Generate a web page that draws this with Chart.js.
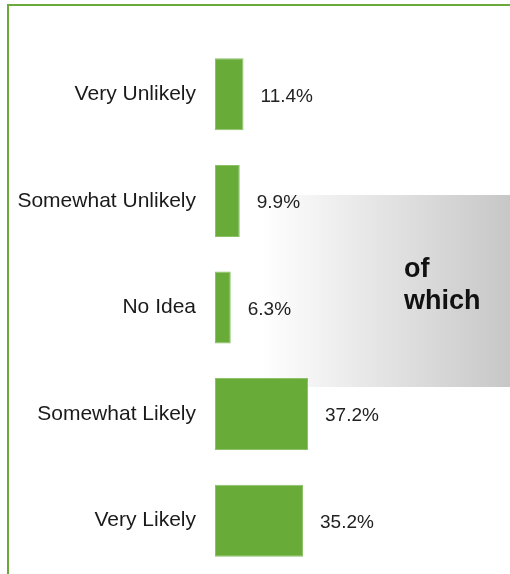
<!DOCTYPE html>
<html>
<head>
<meta charset="utf-8">
<script src="https://cdn.jsdelivr.net/npm/chart.js@4.4.1/dist/chart.umd.min.js"></script>
<style>
  html, body { margin: 0; padding: 0; background: #ffffff; }
  #wrap { width: 510px; height: 574px; position: relative; }
</style>
</head>
<body>
<div id="wrap"><canvas id="chart" width="510" height="574"></canvas></div>
<script>
// Survey answers and their shares (%)
const categories = ["Very Unlikely", "Somewhat Unlikely", "No Idea", "Somewhat Likely", "Very Likely"];
const shares = [11.4, 9.9, 6.3, 37.2, 35.2];
const valueLabels = ["11.4%", "9.9%", "6.3%", "37.2%", "35.2%"];
const calloutLines = ["of", "which"];

const GREEN = "#68ab38";

// Shaded callout panel behind the middle answers, with its caption
const calloutPanel = {
  id: "calloutPanel",
  beforeDatasetsDraw(chart) {
    const ctx = chart.ctx;
    const x0 = 262, x1 = 510, y0 = 195, y1 = 387;
    const g = ctx.createLinearGradient(x0, 0, x1, 0);
    g.addColorStop(0, "#ffffff");
    g.addColorStop(1, "#c7c7c7");
    ctx.save();
    ctx.fillStyle = g;
    ctx.fillRect(x0, y0, x1 - x0, y1 - y0);
    ctx.restore();
  },
  afterDatasetsDraw(chart) {
    const ctx = chart.ctx;
    ctx.save();
    ctx.fillStyle = "#111111";
    ctx.font = "bold 27px 'Liberation Sans', Arial, sans-serif";
    ctx.textAlign = "left";
    ctx.textBaseline = "alphabetic";
    ctx.fillText(calloutLines[0], 404, 277);
    ctx.fillText(calloutLines[1], 404, 309);
    ctx.restore();
  }
};

// Percentage labels just past the end of each bar
const barValues = {
  id: "barValues",
  afterDatasetsDraw(chart) {
    const ctx = chart.ctx;
    const meta = chart.getDatasetMeta(0);
    ctx.save();
    ctx.fillStyle = "#222222";
    ctx.font = "19px 'Liberation Sans', Arial, sans-serif";
    ctx.textAlign = "left";
    ctx.textBaseline = "middle";
    meta.data.forEach((bar, i) => {
      ctx.fillText(valueLabels[i], bar.x + 17, bar.y + 2);
    });
    ctx.restore();
  }
};

// Green frame along the top and left edges
const frame = {
  id: "frame",
  afterDraw(chart) {
    const ctx = chart.ctx;
    ctx.save();
    ctx.strokeStyle = "#6aaa3a";
    ctx.lineWidth = 2;
    ctx.beginPath();
    ctx.moveTo(8, chart.height);
    ctx.lineTo(8, 5);
    ctx.lineTo(chart.width, 5);
    ctx.stroke();
    ctx.restore();
  }
};

new Chart(document.getElementById("chart"), {
  type: "bar",
  data: {
    labels: categories,
    datasets: [{
      data: shares,
      backgroundColor: GREEN,
      borderColor: "#8cc168",
      borderWidth: 1,
      borderSkipped: false,
      barPercentage: 0.675,
      categoryPercentage: 1.0
    }]
  },
  options: {
    indexAxis: "y",
    responsive: false,
    animation: false,
    layout: { padding: { top: 41, right: 0, bottom: 0, left: 0 } },
    plugins: {
      legend: { display: false },
      tooltip: { enabled: false }
    },
    scales: {
      x: {
        display: false,
        min: 0,
        max: 118
      },
      y: {
        grid: { display: false, drawTicks: false },
        border: { display: false },
        afterFit(scale) {
          scale.width = 215;
          scale.paddingTop = 0;
          scale.paddingBottom = 0;
        },
        ticks: {
          padding: 19,
          color: "#1a1a1a",
          font: { family: "'Liberation Sans', Arial, sans-serif", size: 21 }
        }
      }
    }
  },
  plugins: [calloutPanel, barValues, frame]
});
</script>
</body>
</html>
